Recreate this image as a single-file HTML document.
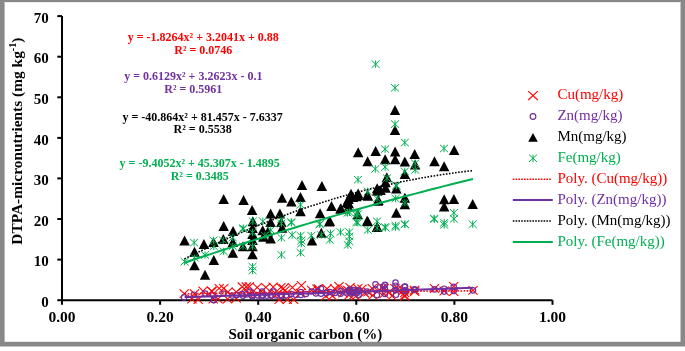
<!DOCTYPE html>
<html><head><meta charset="utf-8"><style>
html,body{margin:0;padding:0;background:#fff;}
body{width:685px;height:351px;overflow:hidden;position:relative;}
svg{position:absolute;left:0;top:0;will-change:transform;}
.b14{font-family:"Liberation Serif",serif;font-weight:bold;font-size:15px;}
.r14{font-family:"Liberation Serif",serif;font-size:15px;}
.b11{font-family:"Liberation Serif",serif;font-weight:bold;font-size:12px;}
</style></head><body>
<svg width="685" height="351" viewBox="0 0 685 351">
<rect x="0" y="0" width="685" height="346.5" fill="#888"/>
<rect x="4.6" y="2" width="675.9" height="339.8" fill="#fff"/>
<rect x="4.6" y="2" width="675.9" height="1" fill="#ececec"/>
<path d="M62 16.1V300.2H552.5" stroke="#000" stroke-width="2" fill="none"/>
<path d="M57.3 300.2H62" stroke="#000" stroke-width="2"/>
<text x="48.8" y="306.9" text-anchor="end" class="b14">0</text>
<path d="M57.3 259.6H62" stroke="#000" stroke-width="2"/>
<text x="48.8" y="266.3" text-anchor="end" class="b14">10</text>
<path d="M57.3 219.0H62" stroke="#000" stroke-width="2"/>
<text x="48.8" y="225.7" text-anchor="end" class="b14">20</text>
<path d="M57.3 178.4H62" stroke="#000" stroke-width="2"/>
<text x="48.8" y="185.1" text-anchor="end" class="b14">30</text>
<path d="M57.3 137.9H62" stroke="#000" stroke-width="2"/>
<text x="48.8" y="144.6" text-anchor="end" class="b14">40</text>
<path d="M57.3 97.3H62" stroke="#000" stroke-width="2"/>
<text x="48.8" y="104.0" text-anchor="end" class="b14">50</text>
<path d="M57.3 56.7H62" stroke="#000" stroke-width="2"/>
<text x="48.8" y="63.4" text-anchor="end" class="b14">60</text>
<path d="M57.3 16.1H62" stroke="#000" stroke-width="2"/>
<text x="48.8" y="22.8" text-anchor="end" class="b14">70</text>
<path d="M62.0 300.2V304.8" stroke="#000" stroke-width="2"/>
<text x="62.0" y="322.4" text-anchor="middle" class="b14" style="font-size:15.5px">0.00</text>
<path d="M160.1 300.2V304.8" stroke="#000" stroke-width="2"/>
<text x="160.1" y="322.4" text-anchor="middle" class="b14" style="font-size:15.5px">0.20</text>
<path d="M258.2 300.2V304.8" stroke="#000" stroke-width="2"/>
<text x="258.2" y="322.4" text-anchor="middle" class="b14" style="font-size:15.5px">0.40</text>
<path d="M356.3 300.2V304.8" stroke="#000" stroke-width="2"/>
<text x="356.3" y="322.4" text-anchor="middle" class="b14" style="font-size:15.5px">0.60</text>
<path d="M454.4 300.2V304.8" stroke="#000" stroke-width="2"/>
<text x="454.4" y="322.4" text-anchor="middle" class="b14" style="font-size:15.5px">0.80</text>
<path d="M552.5 300.2V304.8" stroke="#000" stroke-width="2"/>
<text x="552.5" y="322.4" text-anchor="middle" class="b14" style="font-size:15.5px">1.00</text>
<text x="305.3" y="338.6" text-anchor="middle" class="b14">Soil organic carbon (%)</text>
<text transform="translate(21.5 141.1) rotate(-90)" text-anchor="middle" class="b14" style="font-size:15.4px">DTPA-micronutrients (mg kg<tspan dy="-5.2" font-size="10.2">-1</tspan><tspan dy="5.2">)</tspan></text>
<path d="M179.7 289.3L188.9 297.9M188.9 289.3L179.7 297.9" stroke="#FF0000" stroke-width="1.1" fill="none"/>
<path d="M187.3 294.7L196.5 303.3M196.5 294.7L187.3 303.3" stroke="#FF0000" stroke-width="1.1" fill="none"/>
<path d="M198.4 286.7L207.6 295.3M207.6 286.7L198.4 295.3" stroke="#FF0000" stroke-width="1.1" fill="none"/>
<path d="M207.0 286.7L216.2 295.3M216.2 286.7L207.0 295.3" stroke="#FF0000" stroke-width="1.1" fill="none"/>
<path d="M193.6 295.2L202.8 303.8M202.8 295.2L193.6 303.8" stroke="#FF0000" stroke-width="1.1" fill="none"/>
<path d="M189.9 289.3L199.1 297.9M199.1 289.3L189.9 297.9" stroke="#FF0000" stroke-width="1.1" fill="none"/>
<path d="M207.4 287.2L216.6 295.8M216.6 287.2L207.4 295.8" stroke="#FF0000" stroke-width="1.1" fill="none"/>
<path d="M214.6 284.1L223.8 292.7M223.8 284.1L214.6 292.7" stroke="#FF0000" stroke-width="1.1" fill="none"/>
<path d="M219.1 284.1L228.3 292.7M228.3 284.1L219.1 292.7" stroke="#FF0000" stroke-width="1.1" fill="none"/>
<path d="M223.4 287.7L232.6 296.3M232.6 287.7L223.4 296.3" stroke="#FF0000" stroke-width="1.1" fill="none"/>
<path d="M231.7 287.7L240.9 296.3M240.9 287.7L231.7 296.3" stroke="#FF0000" stroke-width="1.1" fill="none"/>
<path d="M237.7 282.5L246.9 291.1M246.9 282.5L237.7 291.1" stroke="#FF0000" stroke-width="1.1" fill="none"/>
<path d="M241.7 282.5L250.9 291.1M250.9 282.5L241.7 291.1" stroke="#FF0000" stroke-width="1.1" fill="none"/>
<path d="M208.6 294.7L217.8 303.3M217.8 294.7L208.6 303.3" stroke="#FF0000" stroke-width="1.1" fill="none"/>
<path d="M213.4 294.7L222.6 303.3M222.6 294.7L213.4 303.3" stroke="#FF0000" stroke-width="1.1" fill="none"/>
<path d="M223.0 294.7L232.2 303.3M232.2 294.7L223.0 303.3" stroke="#FF0000" stroke-width="1.1" fill="none"/>
<path d="M231.7 294.0L240.9 302.6M240.9 294.0L231.7 302.6" stroke="#FF0000" stroke-width="1.1" fill="none"/>
<path d="M244.7 282.3L253.9 290.9M253.9 282.3L244.7 290.9" stroke="#FF0000" stroke-width="1.1" fill="none"/>
<path d="M252.7 283.2L261.9 291.8M261.9 283.2L252.7 291.8" stroke="#FF0000" stroke-width="1.1" fill="none"/>
<path d="M261.2 283.1L270.4 291.7M270.4 283.1L261.2 291.7" stroke="#FF0000" stroke-width="1.1" fill="none"/>
<path d="M268.6 282.7L277.8 291.3M277.8 282.7L268.6 291.3" stroke="#FF0000" stroke-width="1.1" fill="none"/>
<path d="M276.3 283.1L285.5 291.7M285.5 283.1L276.3 291.7" stroke="#FF0000" stroke-width="1.1" fill="none"/>
<path d="M243.8 289.4L253.0 298.0M253.0 289.4L243.8 298.0" stroke="#FF0000" stroke-width="1.1" fill="none"/>
<path d="M253.2 290.2L262.4 298.8M262.4 290.2L253.2 298.8" stroke="#FF0000" stroke-width="1.1" fill="none"/>
<path d="M262.6 290.2L271.8 298.8M271.8 290.2L262.6 298.8" stroke="#FF0000" stroke-width="1.1" fill="none"/>
<path d="M272.0 290.2L281.2 298.8M281.2 290.2L272.0 298.8" stroke="#FF0000" stroke-width="1.1" fill="none"/>
<path d="M274.6 295.3L283.8 303.9M283.8 295.3L274.6 303.9" stroke="#FF0000" stroke-width="1.1" fill="none"/>
<path d="M278.8 284.2L288.0 292.8M288.0 284.2L278.8 292.8" stroke="#FF0000" stroke-width="1.1" fill="none"/>
<path d="M280.4 286.2L289.6 294.8M289.6 286.2L280.4 294.8" stroke="#FF0000" stroke-width="1.1" fill="none"/>
<path d="M287.8 283.2L297.0 291.8M297.0 283.2L287.8 291.8" stroke="#FF0000" stroke-width="1.1" fill="none"/>
<path d="M296.8 281.2L306.0 289.8M306.0 281.2L296.8 289.8" stroke="#FF0000" stroke-width="1.1" fill="none"/>
<path d="M295.9 288.9L305.1 297.5M305.1 288.9L295.9 297.5" stroke="#FF0000" stroke-width="1.1" fill="none"/>
<path d="M282.7 295.3L291.9 303.9M291.9 295.3L282.7 303.9" stroke="#FF0000" stroke-width="1.1" fill="none"/>
<path d="M289.0 295.3L298.2 303.9M298.2 295.3L289.0 303.9" stroke="#FF0000" stroke-width="1.1" fill="none"/>
<path d="M307.0 285.9L316.2 294.5M316.2 285.9L307.0 294.5" stroke="#FF0000" stroke-width="1.1" fill="none"/>
<path d="M312.4 284.7L321.6 293.3M321.6 284.7L312.4 293.3" stroke="#FF0000" stroke-width="1.1" fill="none"/>
<path d="M313.8 284.4L323.0 293.0M323.0 284.4L313.8 293.0" stroke="#FF0000" stroke-width="1.1" fill="none"/>
<path d="M322.4 284.4L331.6 293.0M331.6 284.4L322.4 293.0" stroke="#FF0000" stroke-width="1.1" fill="none"/>
<path d="M330.2 284.4L339.4 293.0M339.4 284.4L330.2 293.0" stroke="#FF0000" stroke-width="1.1" fill="none"/>
<path d="M321.1 291.7L330.3 300.3M330.3 291.7L321.1 300.3" stroke="#FF0000" stroke-width="1.1" fill="none"/>
<path d="M327.8 291.7L337.0 300.3M337.0 291.7L327.8 300.3" stroke="#FF0000" stroke-width="1.1" fill="none"/>
<path d="M340.4 285.7L349.6 294.3M349.6 285.7L340.4 294.3" stroke="#FF0000" stroke-width="1.1" fill="none"/>
<path d="M347.4 287.7L356.6 296.3M356.6 287.7L347.4 296.3" stroke="#FF0000" stroke-width="1.1" fill="none"/>
<path d="M344.4 290.7L353.6 299.3M353.6 290.7L344.4 299.3" stroke="#FF0000" stroke-width="1.1" fill="none"/>
<path d="M343.1 285.9L352.3 294.5M352.3 285.9L343.1 294.5" stroke="#FF0000" stroke-width="1.1" fill="none"/>
<path d="M353.2 284.1L362.4 292.7M362.4 284.1L353.2 292.7" stroke="#FF0000" stroke-width="1.1" fill="none"/>
<path d="M349.4 290.5L358.6 299.1M358.6 290.5L349.4 299.1" stroke="#FF0000" stroke-width="1.1" fill="none"/>
<path d="M360.0 288.9L369.2 297.5M369.2 288.9L360.0 297.5" stroke="#FF0000" stroke-width="1.1" fill="none"/>
<path d="M367.7 284.1L376.9 292.7M376.9 284.1L367.7 292.7" stroke="#FF0000" stroke-width="1.1" fill="none"/>
<path d="M368.2 291.1L377.4 299.7M377.4 291.1L368.2 299.7" stroke="#FF0000" stroke-width="1.1" fill="none"/>
<path d="M377.9 283.3L387.1 291.9M387.1 283.3L377.9 291.9" stroke="#FF0000" stroke-width="1.1" fill="none"/>
<path d="M379.4 284.1L388.6 292.7M388.6 284.1L379.4 292.7" stroke="#FF0000" stroke-width="1.1" fill="none"/>
<path d="M379.4 289.6L388.6 298.2M388.6 289.6L379.4 298.2" stroke="#FF0000" stroke-width="1.1" fill="none"/>
<path d="M390.4 284.1L399.6 292.7M399.6 284.1L390.4 292.7" stroke="#FF0000" stroke-width="1.1" fill="none"/>
<path d="M400.0 291.1L409.2 299.7M409.2 291.1L400.0 299.7" stroke="#FF0000" stroke-width="1.1" fill="none"/>
<path d="M399.1 285.9L408.3 294.5M408.3 285.9L399.1 294.5" stroke="#FF0000" stroke-width="1.1" fill="none"/>
<path d="M410.0 285.9L419.2 294.5M419.2 285.9L410.0 294.5" stroke="#FF0000" stroke-width="1.1" fill="none"/>
<path d="M400.1 288.5L409.3 297.1M409.3 288.5L400.1 297.1" stroke="#FF0000" stroke-width="1.1" fill="none"/>
<path d="M400.1 292.0L409.3 300.6M409.3 292.0L400.1 300.6" stroke="#FF0000" stroke-width="1.1" fill="none"/>
<path d="M410.0 287.3L419.2 295.9M419.2 287.3L410.0 295.9" stroke="#FF0000" stroke-width="1.1" fill="none"/>
<path d="M338.4 288.7L347.6 297.3M347.6 288.7L338.4 297.3" stroke="#FF0000" stroke-width="1.1" fill="none"/>
<path d="M345.4 283.2L354.6 291.8M354.6 283.2L345.4 291.8" stroke="#FF0000" stroke-width="1.1" fill="none"/>
<path d="M351.4 291.7L360.6 300.3M360.6 291.7L351.4 300.3" stroke="#FF0000" stroke-width="1.1" fill="none"/>
<path d="M357.4 284.7L366.6 293.3M366.6 284.7L357.4 293.3" stroke="#FF0000" stroke-width="1.1" fill="none"/>
<path d="M363.4 287.7L372.6 296.3M372.6 287.7L363.4 296.3" stroke="#FF0000" stroke-width="1.1" fill="none"/>
<path d="M373.4 286.7L382.6 295.3M382.6 286.7L373.4 295.3" stroke="#FF0000" stroke-width="1.1" fill="none"/>
<path d="M384.4 287.7L393.6 296.3M393.6 287.7L384.4 296.3" stroke="#FF0000" stroke-width="1.1" fill="none"/>
<path d="M387.4 291.7L396.6 300.3M396.6 291.7L387.4 300.3" stroke="#FF0000" stroke-width="1.1" fill="none"/>
<path d="M393.4 284.7L402.6 293.3M402.6 284.7L393.4 293.3" stroke="#FF0000" stroke-width="1.1" fill="none"/>
<path d="M334.4 282.2L343.6 290.8M343.6 282.2L334.4 290.8" stroke="#FF0000" stroke-width="1.1" fill="none"/>
<path d="M325.4 289.2L334.6 297.8M334.6 289.2L325.4 297.8" stroke="#FF0000" stroke-width="1.1" fill="none"/>
<path d="M429.9 284.2L439.1 292.8M439.1 284.2L429.9 292.8" stroke="#FF0000" stroke-width="1.1" fill="none"/>
<path d="M439.6 286.7L448.8 295.3M448.8 286.7L439.6 295.3" stroke="#FF0000" stroke-width="1.1" fill="none"/>
<path d="M449.1 282.1L458.3 290.7M458.3 282.1L449.1 290.7" stroke="#FF0000" stroke-width="1.1" fill="none"/>
<path d="M449.1 287.3L458.3 295.9M458.3 287.3L449.1 295.9" stroke="#FF0000" stroke-width="1.1" fill="none"/>
<path d="M468.4 286.1L477.6 294.7M477.6 286.1L468.4 294.7" stroke="#FF0000" stroke-width="1.1" fill="none"/>
<circle cx="184.1" cy="297.4" r="2.7" stroke="#7030A0" stroke-width="1.2" fill="none"/>
<circle cx="193.8" cy="294.7" r="2.7" stroke="#7030A0" stroke-width="1.2" fill="none"/>
<circle cx="205.3" cy="293.6" r="2.7" stroke="#7030A0" stroke-width="1.2" fill="none"/>
<circle cx="213.8" cy="300.2" r="2.7" stroke="#7030A0" stroke-width="1.2" fill="none"/>
<circle cx="213.2" cy="295.2" r="2.7" stroke="#7030A0" stroke-width="1.2" fill="none"/>
<circle cx="223.6" cy="293.6" r="2.7" stroke="#7030A0" stroke-width="1.2" fill="none"/>
<circle cx="232.3" cy="295.6" r="2.7" stroke="#7030A0" stroke-width="1.2" fill="none"/>
<circle cx="241.9" cy="294.0" r="2.7" stroke="#7030A0" stroke-width="1.2" fill="none"/>
<circle cx="246.7" cy="294.4" r="2.7" stroke="#7030A0" stroke-width="1.2" fill="none"/>
<circle cx="251.8" cy="295.4" r="2.7" stroke="#7030A0" stroke-width="1.2" fill="none"/>
<circle cx="257.8" cy="295.4" r="2.7" stroke="#7030A0" stroke-width="1.2" fill="none"/>
<circle cx="263.0" cy="295.4" r="2.7" stroke="#7030A0" stroke-width="1.2" fill="none"/>
<circle cx="270.6" cy="295.4" r="2.7" stroke="#7030A0" stroke-width="1.2" fill="none"/>
<circle cx="275.8" cy="295.4" r="2.7" stroke="#7030A0" stroke-width="1.2" fill="none"/>
<circle cx="281.8" cy="295.4" r="2.7" stroke="#7030A0" stroke-width="1.2" fill="none"/>
<circle cx="250.1" cy="291.5" r="2.7" stroke="#7030A0" stroke-width="1.2" fill="none"/>
<circle cx="262.1" cy="291.5" r="2.7" stroke="#7030A0" stroke-width="1.2" fill="none"/>
<circle cx="273.2" cy="291.5" r="2.7" stroke="#7030A0" stroke-width="1.2" fill="none"/>
<circle cx="281.7" cy="296.2" r="2.7" stroke="#7030A0" stroke-width="1.2" fill="none"/>
<circle cx="291.1" cy="294.1" r="2.7" stroke="#7030A0" stroke-width="1.2" fill="none"/>
<circle cx="300.9" cy="295.0" r="2.7" stroke="#7030A0" stroke-width="1.2" fill="none"/>
<circle cx="300.9" cy="292.0" r="2.7" stroke="#7030A0" stroke-width="1.2" fill="none"/>
<circle cx="311.6" cy="291.5" r="2.7" stroke="#7030A0" stroke-width="1.2" fill="none"/>
<circle cx="317.6" cy="291.1" r="2.7" stroke="#7030A0" stroke-width="1.2" fill="none"/>
<circle cx="321.0" cy="288.5" r="2.7" stroke="#7030A0" stroke-width="1.2" fill="none"/>
<circle cx="321.0" cy="293.7" r="2.7" stroke="#7030A0" stroke-width="1.2" fill="none"/>
<circle cx="330.0" cy="292.0" r="2.7" stroke="#7030A0" stroke-width="1.2" fill="none"/>
<circle cx="340.6" cy="291.1" r="2.7" stroke="#7030A0" stroke-width="1.2" fill="none"/>
<circle cx="340.6" cy="293.7" r="2.7" stroke="#7030A0" stroke-width="1.2" fill="none"/>
<circle cx="350.0" cy="289.5" r="2.7" stroke="#7030A0" stroke-width="1.2" fill="none"/>
<circle cx="352.0" cy="292.0" r="2.7" stroke="#7030A0" stroke-width="1.2" fill="none"/>
<circle cx="354.0" cy="290.0" r="2.7" stroke="#7030A0" stroke-width="1.2" fill="none"/>
<circle cx="348.6" cy="291.1" r="2.7" stroke="#7030A0" stroke-width="1.2" fill="none"/>
<circle cx="353.2" cy="293.0" r="2.7" stroke="#7030A0" stroke-width="1.2" fill="none"/>
<circle cx="358.7" cy="294.8" r="2.7" stroke="#7030A0" stroke-width="1.2" fill="none"/>
<circle cx="357.8" cy="290.2" r="2.7" stroke="#7030A0" stroke-width="1.2" fill="none"/>
<circle cx="366.9" cy="291.6" r="2.7" stroke="#7030A0" stroke-width="1.2" fill="none"/>
<circle cx="375.5" cy="284.3" r="2.7" stroke="#7030A0" stroke-width="1.2" fill="none"/>
<circle cx="375.5" cy="289.8" r="2.7" stroke="#7030A0" stroke-width="1.2" fill="none"/>
<circle cx="376.9" cy="295.2" r="2.7" stroke="#7030A0" stroke-width="1.2" fill="none"/>
<circle cx="383.3" cy="286.6" r="2.7" stroke="#7030A0" stroke-width="1.2" fill="none"/>
<circle cx="385.0" cy="284.8" r="2.7" stroke="#7030A0" stroke-width="1.2" fill="none"/>
<circle cx="385.0" cy="289.3" r="2.7" stroke="#7030A0" stroke-width="1.2" fill="none"/>
<circle cx="385.0" cy="293.9" r="2.7" stroke="#7030A0" stroke-width="1.2" fill="none"/>
<circle cx="395.5" cy="282.5" r="2.7" stroke="#7030A0" stroke-width="1.2" fill="none"/>
<circle cx="395.5" cy="285.7" r="2.7" stroke="#7030A0" stroke-width="1.2" fill="none"/>
<circle cx="395.5" cy="290.2" r="2.7" stroke="#7030A0" stroke-width="1.2" fill="none"/>
<circle cx="396.0" cy="294.8" r="2.7" stroke="#7030A0" stroke-width="1.2" fill="none"/>
<circle cx="405.0" cy="286.6" r="2.7" stroke="#7030A0" stroke-width="1.2" fill="none"/>
<circle cx="405.0" cy="291.1" r="2.7" stroke="#7030A0" stroke-width="1.2" fill="none"/>
<circle cx="414.6" cy="289.3" r="2.7" stroke="#7030A0" stroke-width="1.2" fill="none"/>
<circle cx="404.7" cy="286.9" r="2.7" stroke="#7030A0" stroke-width="1.2" fill="none"/>
<circle cx="404.7" cy="290.4" r="2.7" stroke="#7030A0" stroke-width="1.2" fill="none"/>
<circle cx="414.6" cy="289.9" r="2.7" stroke="#7030A0" stroke-width="1.2" fill="none"/>
<circle cx="434.5" cy="289.4" r="2.7" stroke="#7030A0" stroke-width="1.2" fill="none"/>
<circle cx="444.2" cy="288.7" r="2.7" stroke="#7030A0" stroke-width="1.2" fill="none"/>
<circle cx="444.2" cy="291.6" r="2.7" stroke="#7030A0" stroke-width="1.2" fill="none"/>
<circle cx="453.7" cy="286.9" r="2.7" stroke="#7030A0" stroke-width="1.2" fill="none"/>
<circle cx="453.7" cy="291.0" r="2.7" stroke="#7030A0" stroke-width="1.2" fill="none"/>
<circle cx="473.0" cy="290.4" r="2.7" stroke="#7030A0" stroke-width="1.2" fill="none"/>
<circle cx="237.0" cy="295.0" r="2.7" stroke="#7030A0" stroke-width="1.2" fill="none"/>
<circle cx="243.0" cy="295.8" r="2.7" stroke="#7030A0" stroke-width="1.2" fill="none"/>
<circle cx="252.3" cy="296.2" r="2.7" stroke="#7030A0" stroke-width="1.2" fill="none"/>
<circle cx="261.5" cy="296.4" r="2.7" stroke="#7030A0" stroke-width="1.2" fill="none"/>
<circle cx="267.0" cy="295.8" r="2.7" stroke="#7030A0" stroke-width="1.2" fill="none"/>
<circle cx="286.0" cy="295.5" r="2.7" stroke="#7030A0" stroke-width="1.2" fill="none"/>
<circle cx="296.0" cy="295.0" r="2.7" stroke="#7030A0" stroke-width="1.2" fill="none"/>
<circle cx="306.0" cy="294.0" r="2.7" stroke="#7030A0" stroke-width="1.2" fill="none"/>
<circle cx="316.0" cy="293.5" r="2.7" stroke="#7030A0" stroke-width="1.2" fill="none"/>
<circle cx="326.0" cy="293.0" r="2.7" stroke="#7030A0" stroke-width="1.2" fill="none"/>
<circle cx="335.0" cy="293.0" r="2.7" stroke="#7030A0" stroke-width="1.2" fill="none"/>
<circle cx="346.0" cy="292.5" r="2.7" stroke="#7030A0" stroke-width="1.2" fill="none"/>
<circle cx="349.0" cy="290.5" r="2.7" stroke="#7030A0" stroke-width="1.2" fill="none"/>
<circle cx="351.0" cy="293.5" r="2.7" stroke="#7030A0" stroke-width="1.2" fill="none"/>
<circle cx="355.0" cy="291.5" r="2.7" stroke="#7030A0" stroke-width="1.2" fill="none"/>
<circle cx="357.0" cy="293.0" r="2.7" stroke="#7030A0" stroke-width="1.2" fill="none"/>
<circle cx="360.0" cy="291.0" r="2.7" stroke="#7030A0" stroke-width="1.2" fill="none"/>
<path d="M395.0 104.9L400.2 114.9L389.8 114.9Z" fill="#000000"/>
<path d="M395.0 125.1L400.2 135.1L389.8 135.1Z" fill="#000000"/>
<path d="M358.2 147.2L363.4 157.2L352.9 157.2Z" fill="#000000"/>
<path d="M375.6 145.9L380.9 155.9L370.4 155.9Z" fill="#000000"/>
<path d="M367.6 156.2L372.9 166.2L362.4 166.2Z" fill="#000000"/>
<path d="M385.1 154.2L390.4 164.2L379.9 164.2Z" fill="#000000"/>
<path d="M395.1 146.5L400.4 156.5L389.9 156.5Z" fill="#000000"/>
<path d="M395.1 154.2L400.4 164.2L389.9 164.2Z" fill="#000000"/>
<path d="M386.8 172.2L392.1 182.2L381.6 182.2Z" fill="#000000"/>
<path d="M385.5 177.3L390.8 187.3L380.2 187.3Z" fill="#000000"/>
<path d="M414.7 148.9L419.9 158.9L409.4 158.9Z" fill="#000000"/>
<path d="M404.8 156.6L410.1 166.6L399.6 166.6Z" fill="#000000"/>
<path d="M415.2 159.5L420.4 169.5L409.9 169.5Z" fill="#000000"/>
<path d="M434.5 156.2L439.8 166.2L429.2 166.2Z" fill="#000000"/>
<path d="M444.1 161.3L449.4 171.3L438.9 171.3Z" fill="#000000"/>
<path d="M454.2 144.9L459.4 154.9L448.9 154.9Z" fill="#000000"/>
<path d="M404.8 168.9L410.1 178.9L399.6 178.9Z" fill="#000000"/>
<path d="M377.2 183.2L382.4 193.2L371.9 193.2Z" fill="#000000"/>
<path d="M357.8 190.0L363.1 200.0L352.6 200.0Z" fill="#000000"/>
<path d="M367.8 190.7L373.1 200.7L362.6 200.7Z" fill="#000000"/>
<path d="M377.1 185.7L382.4 195.7L371.9 195.7Z" fill="#000000"/>
<path d="M377.8 195.7L383.1 205.7L372.6 205.7Z" fill="#000000"/>
<path d="M385.6 182.8L390.9 192.8L380.4 192.8Z" fill="#000000"/>
<path d="M396.3 183.5L401.6 193.5L391.1 193.5Z" fill="#000000"/>
<path d="M404.9 192.8L410.1 202.8L399.6 202.8Z" fill="#000000"/>
<path d="M404.9 199.2L410.1 209.2L399.6 209.2Z" fill="#000000"/>
<path d="M396.3 207.8L401.6 217.8L391.1 217.8Z" fill="#000000"/>
<path d="M367.8 216.3L373.1 226.3L362.6 226.3Z" fill="#000000"/>
<path d="M357.8 209.2L363.1 219.2L352.6 219.2Z" fill="#000000"/>
<path d="M377.1 222.0L382.4 232.0L371.9 232.0Z" fill="#000000"/>
<path d="M321.9 181.0L327.1 191.0L316.6 191.0Z" fill="#000000"/>
<path d="M331.5 200.9L336.8 210.9L326.2 210.9Z" fill="#000000"/>
<path d="M340.5 203.5L345.8 213.5L335.2 213.5Z" fill="#000000"/>
<path d="M351.0 188.8L356.2 198.8L345.8 198.8Z" fill="#000000"/>
<path d="M358.2 188.6L363.4 198.6L352.9 198.6Z" fill="#000000"/>
<path d="M356.5 191.2L361.8 201.2L351.2 201.2Z" fill="#000000"/>
<path d="M353.0 192.0L358.2 202.0L347.8 202.0Z" fill="#000000"/>
<path d="M348.5 194.0L353.8 204.0L343.2 204.0Z" fill="#000000"/>
<path d="M347.0 197.0L352.2 207.0L341.8 207.0Z" fill="#000000"/>
<path d="M348.5 198.0L353.8 208.0L343.2 208.0Z" fill="#000000"/>
<path d="M348.5 201.5L353.8 211.5L343.2 211.5Z" fill="#000000"/>
<path d="M367.3 189.9L372.6 199.9L362.1 199.9Z" fill="#000000"/>
<path d="M378.3 195.1L383.6 205.1L373.1 205.1Z" fill="#000000"/>
<path d="M380.5 185.0L385.8 195.0L375.2 195.0Z" fill="#000000"/>
<path d="M243.6 194.9L248.8 204.9L238.3 204.9Z" fill="#000000"/>
<path d="M252.1 204.9L257.4 214.9L246.8 214.9Z" fill="#000000"/>
<path d="M302.0 180.0L307.2 190.0L296.8 190.0Z" fill="#000000"/>
<path d="M282.0 192.8L287.2 202.8L276.8 202.8Z" fill="#000000"/>
<path d="M291.3 196.4L296.6 206.4L286.1 206.4Z" fill="#000000"/>
<path d="M300.5 192.1L305.8 202.1L295.2 202.1Z" fill="#000000"/>
<path d="M300.5 206.3L305.8 216.3L295.2 216.3Z" fill="#000000"/>
<path d="M270.6 208.5L275.9 218.5L265.4 218.5Z" fill="#000000"/>
<path d="M279.9 208.5L285.1 218.5L274.6 218.5Z" fill="#000000"/>
<path d="M252.8 216.3L258.1 226.3L247.6 226.3Z" fill="#000000"/>
<path d="M270.6 217.0L275.9 227.0L265.4 227.0Z" fill="#000000"/>
<path d="M281.3 217.0L286.6 227.0L276.1 227.0Z" fill="#000000"/>
<path d="M223.7 194.0L228.9 204.0L218.4 204.0Z" fill="#000000"/>
<path d="M223.7 221.1L228.9 231.1L218.4 231.1Z" fill="#000000"/>
<path d="M233.1 226.0L238.3 236.0L227.8 236.0Z" fill="#000000"/>
<path d="M184.6 235.4L189.8 245.4L179.3 245.4Z" fill="#000000"/>
<path d="M203.9 239.1L209.2 249.1L198.7 249.1Z" fill="#000000"/>
<path d="M194.5 246.8L199.8 256.8L189.2 256.8Z" fill="#000000"/>
<path d="M213.5 236.9L218.8 246.9L208.2 246.9Z" fill="#000000"/>
<path d="M223.3 234.0L228.6 244.0L218.1 244.0Z" fill="#000000"/>
<path d="M232.8 236.9L238.1 246.9L227.6 246.9Z" fill="#000000"/>
<path d="M232.8 247.8L238.1 257.8L227.6 257.8Z" fill="#000000"/>
<path d="M213.8 255.1L219.1 265.1L208.6 265.1Z" fill="#000000"/>
<path d="M194.5 260.3L199.8 270.3L189.2 270.3Z" fill="#000000"/>
<path d="M252.5 228.9L257.8 238.9L247.2 238.9Z" fill="#000000"/>
<path d="M252.5 223.0L257.8 233.0L247.2 233.0Z" fill="#000000"/>
<path d="M252.5 235.0L257.8 245.0L247.2 245.0Z" fill="#000000"/>
<path d="M262.7 225.2L267.9 235.2L257.4 235.2Z" fill="#000000"/>
<path d="M263.4 231.8L268.6 241.8L258.1 241.8Z" fill="#000000"/>
<path d="M243.0 241.3L248.2 251.3L237.8 251.3Z" fill="#000000"/>
<path d="M252.5 241.3L257.8 251.3L247.2 251.3Z" fill="#000000"/>
<path d="M252.5 249.3L257.8 259.3L247.2 259.3Z" fill="#000000"/>
<path d="M205.0 269.7L210.2 279.7L199.8 279.7Z" fill="#000000"/>
<path d="M282.1 222.8L287.4 232.8L276.9 232.8Z" fill="#000000"/>
<path d="M270.7 233.5L275.9 243.5L265.4 243.5Z" fill="#000000"/>
<path d="M267.8 226.4L273.1 236.4L262.6 236.4Z" fill="#000000"/>
<path d="M312.0 235.6L317.2 245.6L306.8 245.6Z" fill="#000000"/>
<path d="M321.3 227.8L326.6 237.8L316.1 237.8Z" fill="#000000"/>
<path d="M329.1 216.4L334.4 226.4L323.9 226.4Z" fill="#000000"/>
<path d="M320.1 208.3L325.4 218.3L314.9 218.3Z" fill="#000000"/>
<path d="M329.8 215.9L335.1 225.9L324.6 225.9Z" fill="#000000"/>
<path d="M341.0 203.5L346.2 213.5L335.8 213.5Z" fill="#000000"/>
<path d="M367.1 215.7L372.4 225.7L361.9 225.7Z" fill="#000000"/>
<path d="M377.1 222.1L382.4 232.1L371.9 232.1Z" fill="#000000"/>
<path d="M444.2 194.2L449.4 204.2L438.9 204.2Z" fill="#000000"/>
<path d="M453.9 194.0L459.1 204.0L448.6 204.0Z" fill="#000000"/>
<path d="M444.2 201.4L449.4 211.4L438.9 211.4Z" fill="#000000"/>
<path d="M472.7 198.9L477.9 208.9L467.4 208.9Z" fill="#000000"/>
<path d="M371.6 60.4L379.6 67.8M379.6 60.4L371.6 67.8M375.6 60.4L375.6 67.8" stroke="#00B050" stroke-width="1.0" fill="none"/>
<path d="M391.0 84.1L399.0 91.5M399.0 84.1L391.0 91.5M395.0 84.1L395.0 91.5" stroke="#00B050" stroke-width="1.0" fill="none"/>
<path d="M391.0 120.4L399.0 127.8M399.0 120.4L391.0 127.8M395.0 120.4L395.0 127.8" stroke="#00B050" stroke-width="1.0" fill="none"/>
<path d="M400.8 138.9L408.8 146.3M408.8 138.9L400.8 146.3M404.8 138.9L404.8 146.3" stroke="#00B050" stroke-width="1.0" fill="none"/>
<path d="M381.1 145.4L389.1 152.8M389.1 145.4L381.1 152.8M385.1 145.4L385.1 152.8" stroke="#00B050" stroke-width="1.0" fill="none"/>
<path d="M440.0 144.8L448.0 152.2M448.0 144.8L440.0 152.2M444.0 144.8L444.0 152.2" stroke="#00B050" stroke-width="1.0" fill="none"/>
<path d="M371.3 165.2L379.3 172.6M379.3 165.2L371.3 172.6M375.3 165.2L375.3 172.6" stroke="#00B050" stroke-width="1.0" fill="none"/>
<path d="M381.1 163.3L389.1 170.7M389.1 163.3L381.1 170.7M385.1 163.3L385.1 170.7" stroke="#00B050" stroke-width="1.0" fill="none"/>
<path d="M411.2 159.7L419.2 167.1M419.2 159.7L411.2 167.1M415.2 159.7L415.2 167.1" stroke="#00B050" stroke-width="1.0" fill="none"/>
<path d="M411.2 166.2L419.2 173.6M419.2 166.2L411.2 173.6M415.2 166.2L415.2 173.6" stroke="#00B050" stroke-width="1.0" fill="none"/>
<path d="M400.8 167.7L408.8 175.1M408.8 167.7L400.8 175.1M404.8 167.7L404.8 175.1" stroke="#00B050" stroke-width="1.0" fill="none"/>
<path d="M383.0 174.5L391.0 181.9M391.0 174.5L383.0 181.9M387.0 174.5L387.0 181.9" stroke="#00B050" stroke-width="1.0" fill="none"/>
<path d="M392.5 181.8L400.5 189.2M400.5 181.8L392.5 189.2M396.5 181.8L396.5 189.2" stroke="#00B050" stroke-width="1.0" fill="none"/>
<path d="M354.0 176.0L362.0 183.4M362.0 176.0L354.0 183.4M358.0 176.0L358.0 183.4" stroke="#00B050" stroke-width="1.0" fill="none"/>
<path d="M363.8 187.7L371.8 195.1M371.8 187.7L363.8 195.1M367.8 187.7L367.8 195.1" stroke="#00B050" stroke-width="1.0" fill="none"/>
<path d="M373.1 194.8L381.1 202.2M381.1 194.8L373.1 202.2M377.1 194.8L377.1 202.2" stroke="#00B050" stroke-width="1.0" fill="none"/>
<path d="M392.3 182.0L400.3 189.4M400.3 182.0L392.3 189.4M396.3 182.0L396.3 189.4" stroke="#00B050" stroke-width="1.0" fill="none"/>
<path d="M391.6 194.8L399.6 202.2M399.6 194.8L391.6 202.2M395.6 194.8L395.6 202.2" stroke="#00B050" stroke-width="1.0" fill="none"/>
<path d="M400.9 199.1L408.9 206.5M408.9 199.1L400.9 206.5M404.9 199.1L404.9 206.5" stroke="#00B050" stroke-width="1.0" fill="none"/>
<path d="M353.8 210.5L361.8 217.9M361.8 210.5L353.8 217.9M357.8 210.5L357.8 217.9" stroke="#00B050" stroke-width="1.0" fill="none"/>
<path d="M353.8 219.0L361.8 226.4M361.8 219.0L353.8 226.4M357.8 219.0L357.8 226.4" stroke="#00B050" stroke-width="1.0" fill="none"/>
<path d="M373.1 217.6L381.1 225.0M381.1 217.6L373.1 225.0M377.1 217.6L377.1 225.0" stroke="#00B050" stroke-width="1.0" fill="none"/>
<path d="M380.9 223.3L388.9 230.7M388.9 223.3L380.9 230.7M384.9 223.3L384.9 230.7" stroke="#00B050" stroke-width="1.0" fill="none"/>
<path d="M391.6 221.9L399.6 229.3M399.6 221.9L391.6 229.3M395.6 221.9L395.6 229.3" stroke="#00B050" stroke-width="1.0" fill="none"/>
<path d="M400.9 220.5L408.9 227.9M408.9 220.5L400.9 227.9M404.9 220.5L404.9 227.9" stroke="#00B050" stroke-width="1.0" fill="none"/>
<path d="M430.1 214.8L438.1 222.2M438.1 214.8L430.1 222.2M434.1 214.8L434.1 222.2" stroke="#00B050" stroke-width="1.0" fill="none"/>
<path d="M353.2 208.6L361.2 216.0M361.2 208.6L353.2 216.0M357.2 208.6L357.2 216.0" stroke="#00B050" stroke-width="1.0" fill="none"/>
<path d="M345.5 208.6L353.5 216.0M353.5 208.6L345.5 216.0M349.5 208.6L349.5 216.0" stroke="#00B050" stroke-width="1.0" fill="none"/>
<path d="M363.8 226.3L371.8 233.7M371.8 226.3L363.8 233.7M367.8 226.3L367.8 233.7" stroke="#00B050" stroke-width="1.0" fill="none"/>
<path d="M373.1 224.1L381.1 231.5M381.1 224.1L373.1 231.5M377.1 224.1L377.1 231.5" stroke="#00B050" stroke-width="1.0" fill="none"/>
<path d="M381.6 224.1L389.6 231.5M389.6 224.1L381.6 231.5M385.6 224.1L385.6 231.5" stroke="#00B050" stroke-width="1.0" fill="none"/>
<path d="M391.6 223.4L399.6 230.8M399.6 223.4L391.6 230.8M395.6 223.4L395.6 230.8" stroke="#00B050" stroke-width="1.0" fill="none"/>
<path d="M400.8 220.6L408.8 228.0M408.8 220.6L400.8 228.0M404.8 220.6L404.8 228.0" stroke="#00B050" stroke-width="1.0" fill="none"/>
<path d="M345.3 228.4L353.3 235.8M353.3 228.4L345.3 235.8M349.3 228.4L349.3 235.8" stroke="#00B050" stroke-width="1.0" fill="none"/>
<path d="M345.3 232.7L353.3 240.1M353.3 232.7L345.3 240.1M349.3 232.7L349.3 240.1" stroke="#00B050" stroke-width="1.0" fill="none"/>
<path d="M345.3 237.7L353.3 245.1M353.3 237.7L345.3 245.1M349.3 237.7L349.3 245.1" stroke="#00B050" stroke-width="1.0" fill="none"/>
<path d="M343.8 241.2L351.8 248.6M351.8 241.2L343.8 248.6M347.8 241.2L347.8 248.6" stroke="#00B050" stroke-width="1.0" fill="none"/>
<path d="M277.4 219.8L285.4 227.2M285.4 219.8L277.4 227.2M281.4 219.8L281.4 227.2" stroke="#00B050" stroke-width="1.0" fill="none"/>
<path d="M287.4 219.1L295.4 226.5M295.4 219.1L287.4 226.5M291.4 219.1L291.4 226.5" stroke="#00B050" stroke-width="1.0" fill="none"/>
<path d="M266.7 226.3L274.7 233.7M274.7 226.3L266.7 233.7M270.7 226.3L270.7 233.7" stroke="#00B050" stroke-width="1.0" fill="none"/>
<path d="M277.4 234.1L285.4 241.5M285.4 234.1L277.4 241.5M281.4 234.1L281.4 241.5" stroke="#00B050" stroke-width="1.0" fill="none"/>
<path d="M288.1 231.3L296.1 238.7M296.1 231.3L288.1 238.7M292.1 231.3L292.1 238.7" stroke="#00B050" stroke-width="1.0" fill="none"/>
<path d="M296.6 232.0L304.6 239.4M304.6 232.0L296.6 239.4M300.6 232.0L300.6 239.4" stroke="#00B050" stroke-width="1.0" fill="none"/>
<path d="M297.3 236.9L305.3 244.3M305.3 236.9L297.3 244.3M301.3 236.9L301.3 244.3" stroke="#00B050" stroke-width="1.0" fill="none"/>
<path d="M297.3 239.8L305.3 247.2M305.3 239.8L297.3 247.2M301.3 239.8L301.3 247.2" stroke="#00B050" stroke-width="1.0" fill="none"/>
<path d="M307.3 232.0L315.3 239.4M315.3 232.0L307.3 239.4M311.3 232.0L311.3 239.4" stroke="#00B050" stroke-width="1.0" fill="none"/>
<path d="M315.8 220.6L323.8 228.0M323.8 220.6L315.8 228.0M319.8 220.6L319.8 228.0" stroke="#00B050" stroke-width="1.0" fill="none"/>
<path d="M317.3 231.2L325.3 238.6M325.3 231.2L317.3 238.6M321.3 231.2L321.3 238.6" stroke="#00B050" stroke-width="1.0" fill="none"/>
<path d="M326.5 229.8L334.5 237.2M334.5 229.8L326.5 237.2M330.5 229.8L330.5 237.2" stroke="#00B050" stroke-width="1.0" fill="none"/>
<path d="M325.8 236.2L333.8 243.6M333.8 236.2L325.8 243.6M329.8 236.2L329.8 243.6" stroke="#00B050" stroke-width="1.0" fill="none"/>
<path d="M336.5 228.4L344.5 235.8M344.5 228.4L336.5 235.8M340.5 228.4L340.5 235.8" stroke="#00B050" stroke-width="1.0" fill="none"/>
<path d="M277.4 251.2L285.4 258.6M285.4 251.2L277.4 258.6M281.4 251.2L281.4 258.6" stroke="#00B050" stroke-width="1.0" fill="none"/>
<path d="M296.6 249.0L304.6 256.4M304.6 249.0L296.6 256.4M300.6 249.0L300.6 256.4" stroke="#00B050" stroke-width="1.0" fill="none"/>
<path d="M261.0 232.0L269.0 239.4M269.0 232.0L261.0 239.4M265.0 232.0L265.0 239.4" stroke="#00B050" stroke-width="1.0" fill="none"/>
<path d="M296.5 201.2L304.5 208.6M304.5 201.2L296.5 208.6M300.5 201.2L300.5 208.6" stroke="#00B050" stroke-width="1.0" fill="none"/>
<path d="M248.8 217.6L256.8 225.0M256.8 217.6L248.8 225.0M252.8 217.6L252.8 225.0" stroke="#00B050" stroke-width="1.0" fill="none"/>
<path d="M258.8 217.6L266.8 225.0M266.8 217.6L258.8 225.0M262.8 217.6L262.8 225.0" stroke="#00B050" stroke-width="1.0" fill="none"/>
<path d="M277.3 215.5L285.3 222.9M285.3 215.5L277.3 222.9M281.3 215.5L281.3 222.9" stroke="#00B050" stroke-width="1.0" fill="none"/>
<path d="M287.3 218.3L295.3 225.7M295.3 218.3L287.3 225.7M291.3 218.3L291.3 225.7" stroke="#00B050" stroke-width="1.0" fill="none"/>
<path d="M190.1 238.9L198.1 246.3M198.1 238.9L190.1 246.3M194.1 238.9L194.1 246.3" stroke="#00B050" stroke-width="1.0" fill="none"/>
<path d="M209.5 236.7L217.5 244.1M217.5 236.7L209.5 244.1M213.5 236.7L213.5 244.1" stroke="#00B050" stroke-width="1.0" fill="none"/>
<path d="M219.3 236.7L227.3 244.1M227.3 236.7L219.3 244.1M223.3 236.7L223.3 244.1" stroke="#00B050" stroke-width="1.0" fill="none"/>
<path d="M228.8 233.8L236.8 241.2M236.8 233.8L228.8 241.2M232.8 233.8L232.8 241.2" stroke="#00B050" stroke-width="1.0" fill="none"/>
<path d="M239.0 225.4L247.0 232.8M247.0 225.4L239.0 232.8M243.0 225.4L243.0 232.8" stroke="#00B050" stroke-width="1.0" fill="none"/>
<path d="M248.5 228.7L256.5 236.1M256.5 228.7L248.5 236.1M252.5 228.7L252.5 236.1" stroke="#00B050" stroke-width="1.0" fill="none"/>
<path d="M180.6 257.9L188.6 265.3M188.6 257.9L180.6 265.3M184.6 257.9L184.6 265.3" stroke="#00B050" stroke-width="1.0" fill="none"/>
<path d="M190.5 254.0L198.5 261.4M198.5 254.0L190.5 261.4M194.5 254.0L194.5 261.4" stroke="#00B050" stroke-width="1.0" fill="none"/>
<path d="M201.0 251.3L209.0 258.7M209.0 251.3L201.0 258.7M205.0 251.3L205.0 258.7" stroke="#00B050" stroke-width="1.0" fill="none"/>
<path d="M209.8 242.6L217.8 250.0M217.8 242.6L209.8 250.0M213.8 242.6L213.8 250.0" stroke="#00B050" stroke-width="1.0" fill="none"/>
<path d="M219.7 247.7L227.7 255.1M227.7 247.7L219.7 255.1M223.7 247.7L223.7 255.1" stroke="#00B050" stroke-width="1.0" fill="none"/>
<path d="M228.8 242.6L236.8 250.0M236.8 242.6L228.8 250.0M232.8 242.6L232.8 250.0" stroke="#00B050" stroke-width="1.0" fill="none"/>
<path d="M239.0 242.6L247.0 250.0M247.0 242.6L239.0 250.0M243.0 242.6L243.0 250.0" stroke="#00B050" stroke-width="1.0" fill="none"/>
<path d="M248.5 242.6L256.5 250.0M256.5 242.6L248.5 250.0M252.5 242.6L252.5 250.0" stroke="#00B050" stroke-width="1.0" fill="none"/>
<path d="M248.5 263.0L256.5 270.4M256.5 263.0L248.5 270.4M252.5 263.0L252.5 270.4" stroke="#00B050" stroke-width="1.0" fill="none"/>
<path d="M239.3 224.5L247.3 231.9M247.3 224.5L239.3 231.9M243.3 224.5L243.3 231.9" stroke="#00B050" stroke-width="1.0" fill="none"/>
<path d="M248.5 266.8L256.5 274.2M256.5 266.8L248.5 274.2M252.5 266.8L252.5 274.2" stroke="#00B050" stroke-width="1.0" fill="none"/>
<path d="M430.2 215.5L438.2 222.9M438.2 215.5L430.2 222.9M434.2 215.5L434.2 222.9" stroke="#00B050" stroke-width="1.0" fill="none"/>
<path d="M440.2 219.0L448.2 226.4M448.2 219.0L440.2 226.4M444.2 219.0L444.2 226.4" stroke="#00B050" stroke-width="1.0" fill="none"/>
<path d="M440.2 221.2L448.2 228.6M448.2 221.2L440.2 228.6M444.2 221.2L444.2 228.6" stroke="#00B050" stroke-width="1.0" fill="none"/>
<path d="M449.9 209.1L457.9 216.5M457.9 209.1L449.9 216.5M453.9 209.1L453.9 216.5" stroke="#00B050" stroke-width="1.0" fill="none"/>
<path d="M449.9 215.2L457.9 222.6M457.9 215.2L449.9 222.6M453.9 215.2L453.9 222.6" stroke="#00B050" stroke-width="1.0" fill="none"/>
<path d="M468.7 220.5L476.7 227.9M476.7 220.5L468.7 227.9M472.7 220.5L472.7 227.9" stroke="#00B050" stroke-width="1.0" fill="none"/>
<path d="M343.6 209.1L351.6 216.5M351.6 209.1L343.6 216.5M347.6 209.1L347.6 216.5" stroke="#00B050" stroke-width="1.0" fill="none"/>
<path d="M352.4 211.3L360.4 218.7M360.4 211.3L352.4 218.7M356.4 211.3L356.4 218.7" stroke="#00B050" stroke-width="1.0" fill="none"/>
<path d="M352.4 218.6L360.4 226.0M360.4 218.6L352.4 226.0M356.4 218.6L356.4 226.0" stroke="#00B050" stroke-width="1.0" fill="none"/>
<path d="M315.9 220.1L323.9 227.5M323.9 220.1L315.9 227.5M319.9 220.1L319.9 227.5" stroke="#00B050" stroke-width="1.0" fill="none"/>
<path d="M184.6 293.8L191.8 293.7L199.0 293.6L206.3 293.4L213.5 293.3L220.7 293.2L227.9 293.1L235.1 293.0L242.3 292.8L249.5 292.7L256.7 292.6L263.9 292.5L271.1 292.4L278.4 292.3L285.6 292.2L292.8 292.2L300.0 292.1L307.2 292.0L314.4 291.9L321.6 291.8L328.8 291.7L336.0 291.7L343.3 291.6L350.5 291.5L357.7 291.5L364.9 291.4L372.1 291.4L379.3 291.3L386.5 291.3L393.7 291.2L400.9 291.2L408.1 291.1L415.4 291.1L422.6 291.1L429.8 291.0L437.0 291.0L444.2 291.0L451.4 291.0L458.6 291.0L465.8 290.9L473.0 290.9" stroke="#FF0000" stroke-width="1.6" stroke-dasharray="1.6 1.5" fill="none"/>
<path d="M184.6 297.1L191.8 296.9L199.0 296.7L206.3 296.5L213.5 296.3L220.7 296.1L227.9 295.8L235.1 295.6L242.3 295.4L249.5 295.2L256.7 295.0L263.9 294.7L271.1 294.5L278.4 294.3L285.6 294.1L292.8 293.8L300.0 293.6L307.2 293.4L314.4 293.1L321.6 292.9L328.8 292.7L336.0 292.4L343.3 292.2L350.5 292.0L357.7 291.7L364.9 291.5L372.1 291.2L379.3 291.0L386.5 290.8L393.7 290.5L400.9 290.3L408.1 290.0L415.4 289.8L422.6 289.5L429.8 289.3L437.0 289.0L444.2 288.8L451.4 288.5L458.6 288.3L465.8 288.0L473.0 287.8" stroke="#7030A0" stroke-width="2" fill="none"/>
<path d="M184.6 258.9L191.8 255.3L199.0 251.8L206.3 248.3L213.5 244.9L220.7 241.6L227.9 238.3L235.1 235.2L242.3 232.1L249.5 229.0L256.7 226.1L263.9 223.2L271.1 220.4L278.4 217.6L285.6 215.0L292.8 212.3L300.0 209.8L307.2 207.4L314.4 205.0L321.6 202.7L328.8 200.4L336.0 198.2L343.3 196.1L350.5 194.1L357.7 192.2L364.9 190.3L372.1 188.5L379.3 186.7L386.5 185.1L393.7 183.5L400.9 181.9L408.1 180.5L415.4 179.1L422.6 177.8L429.8 176.5L437.0 175.4L444.2 174.3L451.4 173.3L458.6 172.3L465.8 171.4L473.0 170.6" stroke="#000000" stroke-width="1.6" stroke-dasharray="1.6 1.5" fill="none"/>
<path d="M184.6 262.7L191.8 260.2L199.0 257.8L206.3 255.5L213.5 253.1L220.7 250.8L227.9 248.4L235.1 246.1L242.3 243.8L249.5 241.5L256.7 239.3L263.9 237.0L271.1 234.8L278.4 232.6L285.6 230.4L292.8 228.2L300.0 226.0L307.2 223.9L314.4 221.7L321.6 219.6L328.8 217.5L336.0 215.4L343.3 213.4L350.5 211.3L357.7 209.3L364.9 207.3L372.1 205.3L379.3 203.3L386.5 201.3L393.7 199.3L400.9 197.4L408.1 195.5L415.4 193.6L422.6 191.7L429.8 189.8L437.0 188.0L444.2 186.1L451.4 184.3L458.6 182.5L465.8 180.7L473.0 179.0" stroke="#00B050" stroke-width="2" fill="none"/>
<text x="203.3" y="40.7" text-anchor="middle" class="b11" fill="#FF0000">y = -1.8264x² + 3.2041x + 0.88</text>
<text x="203.3" y="53.6" text-anchor="middle" class="b11" fill="#FF0000">R² = 0.0746</text>
<text x="193.3" y="79.8" text-anchor="middle" class="b11" fill="#7030A0">y = 0.6129x² + 3.2623x - 0.1</text>
<text x="193.3" y="93.0" text-anchor="middle" class="b11" fill="#7030A0">R² = 0.5961</text>
<text x="202.6" y="120.5" text-anchor="middle" class="b11" fill="#000000">y = -40.864x² + 81.457x - 7.6337</text>
<text x="202.6" y="133.3" text-anchor="middle" class="b11" fill="#000000">R² = 0.5538</text>
<text x="199.7" y="167.4" text-anchor="middle" class="b11" fill="#00B050">y = -9.4052x² + 45.307x - 1.4895</text>
<text x="199.7" y="180.4" text-anchor="middle" class="b11" fill="#00B050">R² = 0.3485</text>
<path d="M528.2 91.2L537.8 100.0M537.8 91.2L528.2 100.0" stroke="#FF0000" stroke-width="1.1" fill="none"/>
<circle cx="533.0" cy="116.5" r="2.85" stroke="#7030A0" stroke-width="1.2" fill="none"/>
<path d="M533.0 133.0L537.8 141.8L528.2 141.8Z" fill="#000000"/>
<path d="M529.0 154.6L537.0 162.0M537.0 154.6L529.0 162.0M533.0 154.6L533.0 162.0" stroke="#00B050" stroke-width="1.0" fill="none"/>
<path d="M512.8 179.2H551.5" stroke="#FF0000" stroke-width="1.6" stroke-dasharray="1.6 1.2"/>
<path d="M512.8 200.1H552.8" stroke="#7030A0" stroke-width="2"/>
<path d="M512.8 221.0H551.5" stroke="#000000" stroke-width="1.6" stroke-dasharray="1.6 1.2"/>
<path d="M512.8 241.9H552.8" stroke="#00B050" stroke-width="2"/>
<text x="557.4" y="99.40" class="r14" fill="#FF0000">Cu(mg/kg)</text>
<text x="557.4" y="120.33" class="r14" fill="#7030A0">Zn(mg/kg)</text>
<text x="557.4" y="141.26" class="r14" fill="#000000">Mn(mg/kg)</text>
<text x="557.4" y="162.19" class="r14" fill="#00B050">Fe(mg/kg)</text>
<text x="557.4" y="183.12" class="r14" fill="#FF0000">Poly. (Cu(mg/kg))</text>
<text x="557.4" y="204.05" class="r14" fill="#7030A0">Poly. (Zn(mg/kg))</text>
<text x="557.4" y="224.98" class="r14" fill="#000000">Poly. (Mn(mg/kg))</text>
<text x="557.4" y="245.91" class="r14" fill="#00B050">Poly. (Fe(mg/kg))</text>
</svg>
</body></html>
